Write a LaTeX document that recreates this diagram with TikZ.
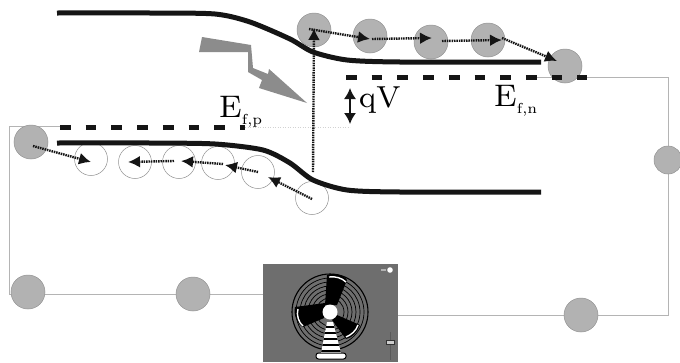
\documentclass[tikz,border=0pt]{standalone}
\usepackage{graphicx}
\usetikzlibrary{arrows.meta}
\definecolor{ink}{HTML}{151515}
\definecolor{holefill}{HTML}{B2B2B2}
\definecolor{wire}{HTML}{B4B4B4}
\definecolor{panel}{HTML}{6E6E6E}
\definecolor{flash}{HTML}{8C8C8C}
\tikzset{
  band/.style={line width=5pt,ink},
  level/.style={line width=5pt,ink,dash pattern=on 10.7pt off 15pt},
  wireline/.style={line width=0.9pt,wire},
  carrier/.style={circle,draw=gray!85,line width=0.5pt,minimum size=#1,inner sep=0pt},
  filled/.style={carrier=#1,fill=holefill},
  empty/.style={carrier=#1,fill=white},
  hop/.style={line width=2.4pt,ink,dash pattern=on 1.5pt off 0.9pt,-{Latex[length=12pt,width=12pt]}},
  big/.style={inner sep=0pt,anchor=base west}
}
% large labels use a small design size for heavier strokes
\newcommand{\enlarged}[2]{\scalebox{#1}{\fontsize{8}{8}\selectfont #2}}
\newcommand{\lowered}[1]{\raisebox{-1.8pt}{\scalebox{0.62}{\fontsize{6}{6}\selectfont #1}}}
\begin{document}
\begin{tikzpicture}[x=1pt,y=-1pt]
\useasboundingbox (0,0) rectangle (680,362);
\fill[white] (0,0) rectangle (680,362);

% external circuit
\coordinate (wa) at (587,77);
\coordinate (wb) at (668,77);
\coordinate (wc) at (668,315);
\coordinate (wd) at (398,315);
\coordinate (we) at (263,294);
\coordinate (wf) at (9,294);
\coordinate (wg) at (9,126);
\coordinate (wh) at (60,126);
\draw[wireline] (wa) -- (wb) -- (wc) -- (wd);
\draw[wireline] (we) -- (wf) -- (wg) -- (wh);
\draw[wireline] (530,77) -- (wa);
\draw[line width=0.5pt,gray!35,dotted] (245,127) -- (350,127);

% carriers
\node[filled=34pt] (n1) at (314,30) {};
\node[filled=34pt] (n2) at (370,36) {};
\node[filled=34pt] (n3) at (431,42) {};
\node[filled=34pt] (n4) at (488,40) {};
\node[filled=34pt] (n5) at (565,66) {};
\node[filled=34pt] (p0) at (31,142) {};
\node[filled=28pt] (r1) at (668,160) {};
\node[filled=34pt] (b1) at (28,292) {};
\node[filled=34pt] (b2) at (193,294) {};
\node[filled=34pt] (b3) at (581,315) {};
\node[empty=33pt] (h1) at (91,159) {};
\node[empty=33pt] (h2) at (135,162) {};
\node[empty=33pt] (h3) at (179,162) {};
\node[empty=33pt] (h4) at (218,163) {};
\node[empty=33pt] (h5) at (258,172) {};
\node[empty=33pt] (h6) at (312,198) {};

% band edges
\draw[band] plot[smooth,tension=0.45] coordinates {(57,13) (150,13) (215,14) (250,22) (290,39) (313,52) (347,60) (400,62) (541,62)};
\draw[band] plot[smooth,tension=0.45] coordinates {(57,143) (150,143) (215,144) (263,150) (290,163) (313,180) (347,190) (400,192) (541,192)};

% quasi-Fermi levels
\draw[level] (60,127) -- (245,127);
\draw[level] (346,77) -- (587,77);

% carrier hops
\coordinate (t1) at (313,172);
\coordinate (t2) at (314,28);
\draw[hop] (t1) -- (t2);
\coordinate (a1) at (309,29);
\coordinate (a2) at (370,39);
\draw[hop] (a1) -- (a2);
\coordinate (a3) at (372,39);
\coordinate (a4) at (432,38);
\draw[hop] (a3) -- (a4);
\coordinate (a5) at (442,41);
\coordinate (a6) at (502,40);
\draw[hop] (a5) -- (a6);
\coordinate (a7) at (502,38);
\coordinate (a8) at (557,61);
\draw[hop] (a7) -- (a8);
\coordinate (c1) at (33,146);
\coordinate (c2) at (91,162);
\draw[hop] (c1) -- (c2);
\coordinate (c3) at (174,161);
\coordinate (c4) at (128,162);
\draw[hop] (c3) -- (c4);
\coordinate (c5) at (223,164);
\coordinate (c6) at (181,161);
\draw[hop] (c5) -- (c6);
\coordinate (c7) at (258,172);
\coordinate (c8) at (225,165);
\draw[hop] (c7) -- (c8);
\coordinate (c9) at (312,199);
\coordinate (c10) at (268,177);
\draw[hop] (c9) -- (c10);

% incoming light
\fill[flash] (202,37) -- (251,45) -- (253,68) -- (268,74) -- (269,69) -- (307,103) -- (259,88) -- (262,80) -- (248,72) -- (248,52) -- (199,52) -- cycle;

% voltage label
\coordinate (v1) at (350,88);
\coordinate (v2) at (350,124);
\draw[line width=1.6pt,ink,{Latex[length=11pt,width=12pt]}-{Latex[length=11pt,width=12pt]}] (v1) -- (v2);
\node[big] (qv) at (359,107) {\enlarged{3.8}{qV}};
\node[big] (efp) at (219,117) {\enlarged{3.9}{E\lowered{f,p}}};
\node[big] (efn) at (494,106) {\enlarged{3.9}{E\lowered{f,n}}};

% fan load
\fill[panel] (263,264) rectangle (398,362);
\foreach \r in {34,30,26,22,18,14}
  \draw[black,line width=0.7pt] (330,312) circle (\r);
\draw[black,line width=1.1pt] (330,312) circle (38);
% blades
\fill[black] (327,275) .. controls (335,272) and (345,276) .. (347,280) -- (337,305) -- (325,305) -- cycle;
\fill[black] (295,307) .. controls (293,315) and (298,325) .. (303,327) -- (324,318) -- (325,303) -- cycle;
\fill[black] (337,315) -- (360,325) .. controls (358,332) and (352,338) .. (346,339) -- (332,320) -- cycle;
\draw[white,line width=1.4pt] (329,277) .. controls (335,276) and (342,278) .. (346,282);
\draw[white,line width=1.4pt] (298,309) .. controls (296,315) and (299,323) .. (303,326);
\draw[white,line width=1.4pt] (358,325) .. controls (356,331) and (351,335) .. (346,337);
% stand
\begin{scope}
  \clip (327,322) -- (333,322) -- (341,353) -- (321,353) -- cycle;
  \fill[white] (318,320) rectangle (344,354);
  \foreach \y in {327,333,339,345,351}
    \draw[black,line width=1.4pt] (318,\y) -- (344,\y);
\end{scope}
\draw[black,line width=1pt,fill=white,rounded corners=2.5pt] (316,353) rectangle (346,359);
\fill[white] (330,312) circle (7.5);
% controls
\fill[white] (390,270) circle (2.8);
\fill[black!30] (381,269) rectangle (386,271);
\draw[black!65,line width=0.8pt] (390,332) -- (390,360);
\fill[black!20,draw=black!80,line width=0.4pt] (386,340) rectangle (394,344);
\end{tikzpicture}
\end{document}
